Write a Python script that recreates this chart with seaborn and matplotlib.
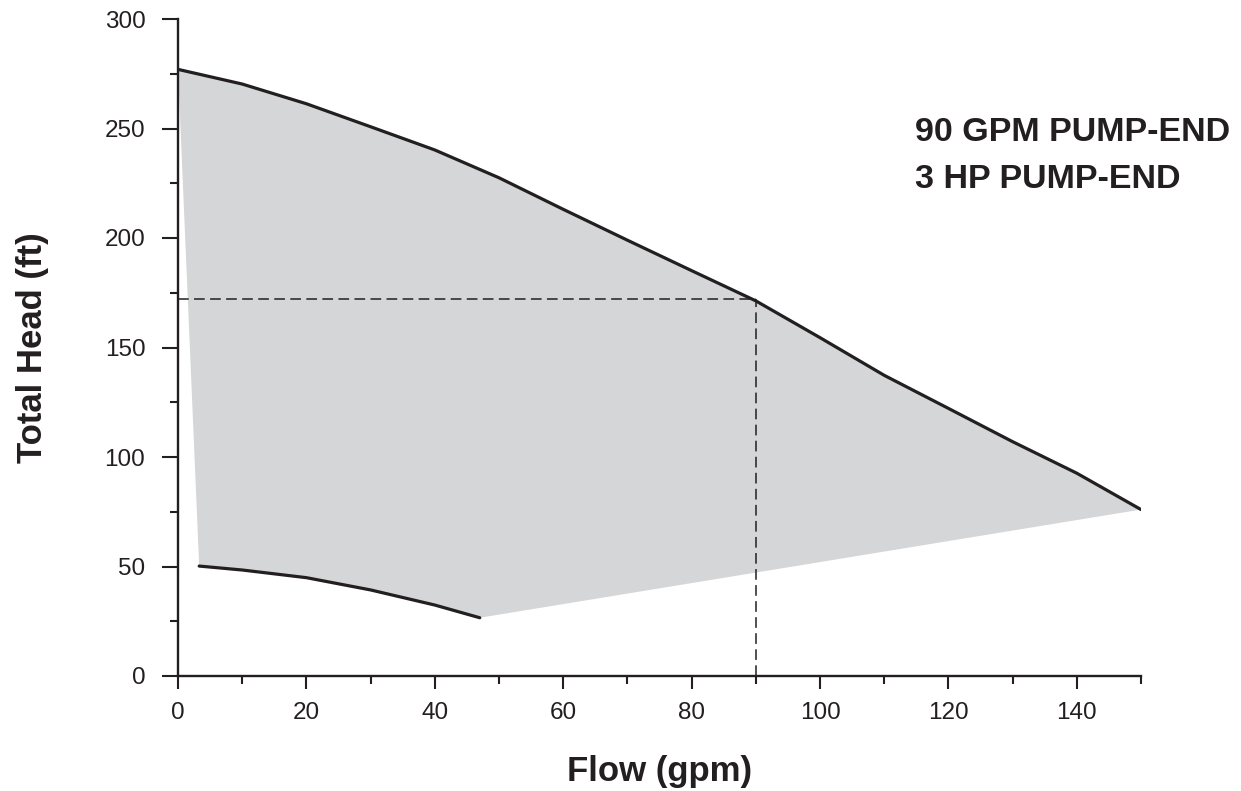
import matplotlib
matplotlib.use("Agg")
import matplotlib.pyplot as plt
import seaborn as sns
from matplotlib.ticker import MultipleLocator

sns.set_theme(style="ticks")
plt.rcParams['font.family'] = ['Liberation Sans', 'DejaVu Sans']

# Upper (max head) curve
top_flow = [0, 10, 20, 30, 40, 50, 60, 70, 80, 90, 100, 110, 120, 130, 140, 150]
top_head = [277, 270.3, 261.3, 250.8, 240.2, 227.5, 213.1, 199, 185.1, 171.3, 154.5, 137.3, 122.2, 107, 92.6, 76]
# Lower (min head) curve
low_flow = [3.3, 10, 20, 30, 40, 47]
low_head = [50.2, 48.4, 44.9, 39.3, 32.4, 26.6]
# Operating point
op_flow = 90
op_head = 172

title_lines = ["90 GPM PUMP-END", "3 HP PUMP-END"]

fig = plt.figure(figsize=(12.41, 7.91), dpi=100)
ax = fig.add_axes([178/1241, 1-676/791, (1141-178)/1241, (676-19)/791])

line_col = "#231f20"
fill_col = "#d5d6d8"

# Shaded operating region
poly_x = top_flow + low_flow[::-1]
poly_y = top_head + low_head[::-1]
ax.fill(poly_x, poly_y, color=fill_col, lw=0, zorder=1)

sns.lineplot(x=top_flow, y=top_head, ax=ax, color=line_col, lw=2.3, zorder=3, estimator=None, sort=False)
sns.lineplot(x=low_flow, y=low_head, ax=ax, color=line_col, lw=2.3, zorder=3, estimator=None, sort=False)

ax.plot([0, op_flow], [op_head, op_head], color=line_col, lw=1.1, dashes=(7, 3.5), zorder=2)
ax.plot([op_flow, op_flow], [0, op_head], color=line_col, lw=1.1, dashes=(7, 3.5), zorder=2)

ax.set_xlim(0, 150)
ax.set_ylim(0, 300)
ax.xaxis.set_major_locator(MultipleLocator(20))
ax.xaxis.set_minor_locator(MultipleLocator(10))
ax.yaxis.set_major_locator(MultipleLocator(50))
ax.yaxis.set_minor_locator(MultipleLocator(25))
ax.tick_params(which='both', width=1.5, color=line_col, labelsize=17.5, labelcolor=line_col)
ax.tick_params(axis='y', which='major', length=11.5, pad=12)
ax.tick_params(axis='x', which='major', length=9.4, pad=9.5)
ax.tick_params(which='minor', length=5.8)

for s in ['top', 'right']:
    ax.spines[s].set_visible(False)
for s in ['left', 'bottom']:
    ax.spines[s].set_color(line_col)
    ax.spines[s].set_linewidth(1.7)

ax.set_xlabel("Flow (gpm)", fontsize=25, fontweight='bold', color=line_col, labelpad=22)
ax.set_ylabel("Total Head (ft)", fontsize=25, fontweight='bold', color=line_col, labelpad=40)

ax.text(114.8, 248, title_lines[0], fontsize=24.5, fontweight='bold', color=line_col, va='center', ha='left')
ax.text(114.8, 226.5, title_lines[1], fontsize=24.5, fontweight='bold', color=line_col, va='center', ha='left')

fig.savefig("out.png", dpi=100)
